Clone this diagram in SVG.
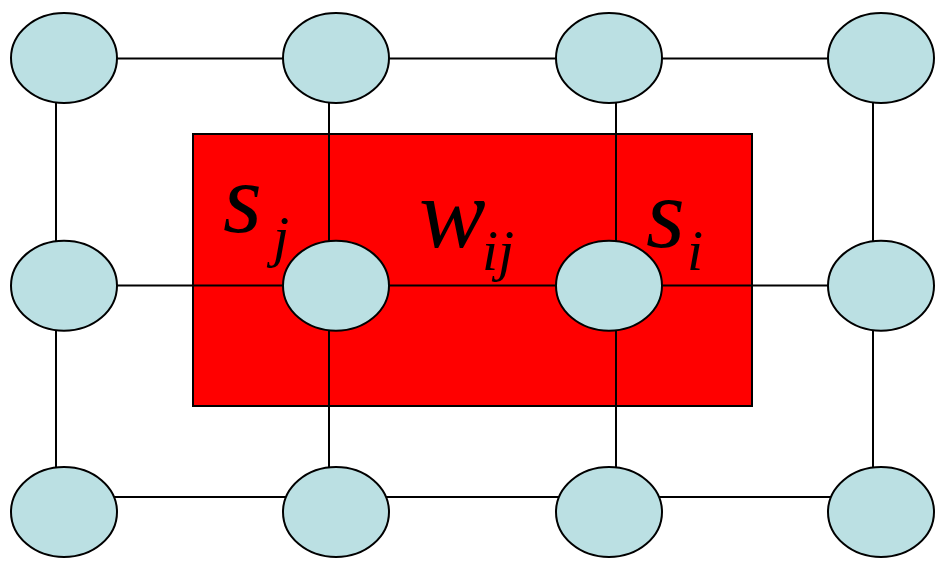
<svg xmlns="http://www.w3.org/2000/svg" width="942" height="562" viewBox="0 0 942 562">
<style>
.e{fill:#BBE0E3;stroke:#000;stroke-width:2}
.c line{stroke:#000;stroke-width:2}
.t{font-family:"Liberation Serif","Times New Roman",serif;font-style:italic;fill:#000}
.m{font-size:100px}
.s{font-size:58px}
</style>
<rect x="0" y="0" width="942" height="562" fill="#fff"/>
<rect id="region" x="193" y="134" width="559" height="272" fill="#FF0000" stroke="#000" stroke-width="2"/>
<g id="connectors" class="c">
<line x1="64" y1="58.5" x2="336" y2="58.5"/>
<line x1="336" y1="58.5" x2="609" y2="58.5"/>
<line x1="609" y1="58.5" x2="881" y2="58.5"/>
<line x1="64" y1="285.5" x2="336" y2="285.5"/>
<line x1="336" y1="285.5" x2="609" y2="285.5"/>
<line x1="609" y1="285.5" x2="881" y2="285.5"/>
<line x1="64" y1="497" x2="336" y2="497"/>
<line x1="336" y1="497" x2="609" y2="497"/>
<line x1="609" y1="497" x2="881" y2="497"/>
<line x1="56" y1="58" x2="56" y2="286"/>
<line x1="56" y1="286" x2="56" y2="512"/>
<line x1="329" y1="58" x2="329" y2="286"/>
<line x1="329" y1="286" x2="329" y2="512"/>
<line x1="616" y1="58" x2="616" y2="286"/>
<line x1="616" y1="286" x2="616" y2="512"/>
<line x1="873" y1="58" x2="873" y2="286"/>
<line x1="873" y1="286" x2="873" y2="512"/>
</g>
<g id="n00"><ellipse class="e" cx="64" cy="58" rx="53" ry="45"/></g>
<g id="n01"><ellipse class="e" cx="336" cy="58" rx="53" ry="45"/></g>
<g id="n02"><ellipse class="e" cx="609" cy="58" rx="53" ry="45"/></g>
<g id="n03"><ellipse class="e" cx="881" cy="58" rx="53" ry="45"/></g>
<g id="n10"><ellipse class="e" cx="64" cy="285.7" rx="53" ry="45"/></g>
<g id="n11"><ellipse class="e" cx="336" cy="285.7" rx="53" ry="45"/></g>
<g id="n12"><ellipse class="e" cx="609" cy="285.7" rx="53" ry="45"/></g>
<g id="n13"><ellipse class="e" cx="881" cy="285.7" rx="53" ry="45"/></g>
<g id="n20"><ellipse class="e" cx="64" cy="512" rx="53" ry="45"/></g>
<g id="n21"><ellipse class="e" cx="336" cy="512" rx="53" ry="45"/></g>
<g id="n22"><ellipse class="e" cx="609" cy="512" rx="53" ry="45"/></g>
<g id="n23"><ellipse class="e" cx="881" cy="512" rx="53" ry="45"/></g>
<g id="labels" class="t">
<text class="m" x="223" y="232">s</text>
<text class="s" x="273" y="256">j</text>
<text class="m" x="419" y="247">w</text>
<text class="s" x="482" y="270">ij</text>
<text class="m" x="646" y="247">s</text>
<text class="s" x="687" y="270">i</text>
</g>
</svg>
